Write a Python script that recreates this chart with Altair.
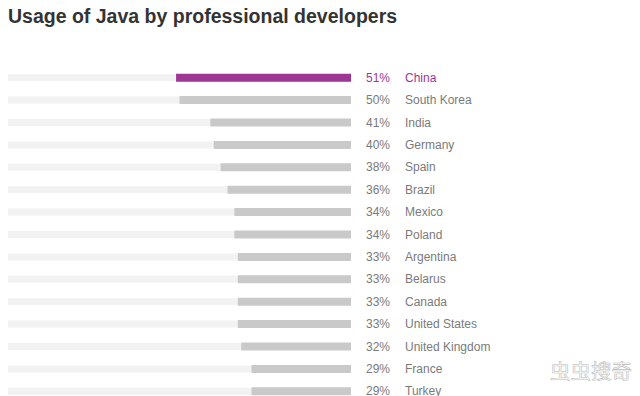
import altair as alt
import pandas as pd

countries = ["China", "South Korea", "India", "Germany", "Spain", "Brazil", "Mexico",
             "Poland", "Argentina", "Belarus", "Canada", "United States",
             "United Kingdom", "France", "Turkey"]
values = [51, 50, 41, 40, 38, 36, 34, 34, 33, 33, 33, 33, 32, 29, 29]
highlight = ["China"]

title_text = "Usage of Java by professional developers"
watermark_text = "虫虫搜奇"

PURPLE = "#9d3792"
GRAY_BAR = "#c9c9c9"
TRACK = "#f2f2f2"
LABEL = "#7a7a7a"

df = pd.DataFrame({
    "country": countries,
    "value": values,
    "full": [100] * len(countries),
    "zero": [0] * len(countries),
    "pct": [f"{v}%" for v in values],
    "hl": [c in highlight for c in countries],
})

TOP = 6
y_scale = alt.Scale(type="point", domain=countries, range=[69.7 - TOP, 383.3 - TOP], padding=0)
x_scale = alt.Scale(domain=[100, 0], range=[0, 343], nice=False, zero=False)

base = alt.Chart(df)

track = base.mark_rule(strokeWidth=7, strokeCap="butt", color=TRACK).encode(
    x=alt.X("full:Q", scale=x_scale, axis=None),
    x2="zero:Q",
    y=alt.Y("country:N", scale=y_scale, axis=None),
)

bars = base.mark_rule(strokeWidth=8, strokeCap="butt").encode(
    x=alt.X("value:Q", scale=x_scale, axis=None),
    x2="zero:Q",
    y=alt.Y("country:N", scale=y_scale, axis=None),
    color=alt.condition("datum.hl", alt.value(PURPLE), alt.value(GRAY_BAR)),
)

pct_text = base.mark_text(align="left", baseline="middle", fontSize=12,
                          font="Liberation Sans").encode(
    x=alt.value(358),
    y=alt.Y("country:N", scale=y_scale, axis=None),
    text="pct:N",
    color=alt.condition("datum.hl", alt.value(PURPLE), alt.value(LABEL)),
)

name_text = base.mark_text(align="left", baseline="middle", fontSize=12,
                           font="Liberation Sans").encode(
    x=alt.value(397),
    y=alt.Y("country:N", scale=y_scale, axis=None),
    text="country:N",
    color=alt.condition("datum.hl", alt.value(PURPLE), alt.value(LABEL)),
)

title = alt.Chart(pd.DataFrame({"t": [title_text]})).mark_text(
    align="left", baseline="alphabetic", fontSize=19.5, fontWeight="bold",
    font="Liberation Sans", color="#333333"
).encode(x=alt.value(0), y=alt.value(15 - TOP), text="t:N")

watermark = alt.Chart(pd.DataFrame({"t": [watermark_text]})).mark_text(
    align="left", baseline="middle", fontSize=20.5, font="Noto Sans CJK SC",
    color="#ffffff", stroke="#bdbdbd", strokeWidth=0.6
).encode(x=alt.value(542), y=alt.value(365 - TOP), text="t:N")

chart = alt.layer(track, bars, pct_text, name_text, title, watermark).properties(
    width=624, height=414,
    autosize=alt.AutoSizeParams(type="none"),
    padding={"left": 0, "top": TOP, "right": 0, "bottom": 0},
).configure_view(stroke=None)

chart.save("out.html", embed_options={"renderer": "svg", "actions": False})
